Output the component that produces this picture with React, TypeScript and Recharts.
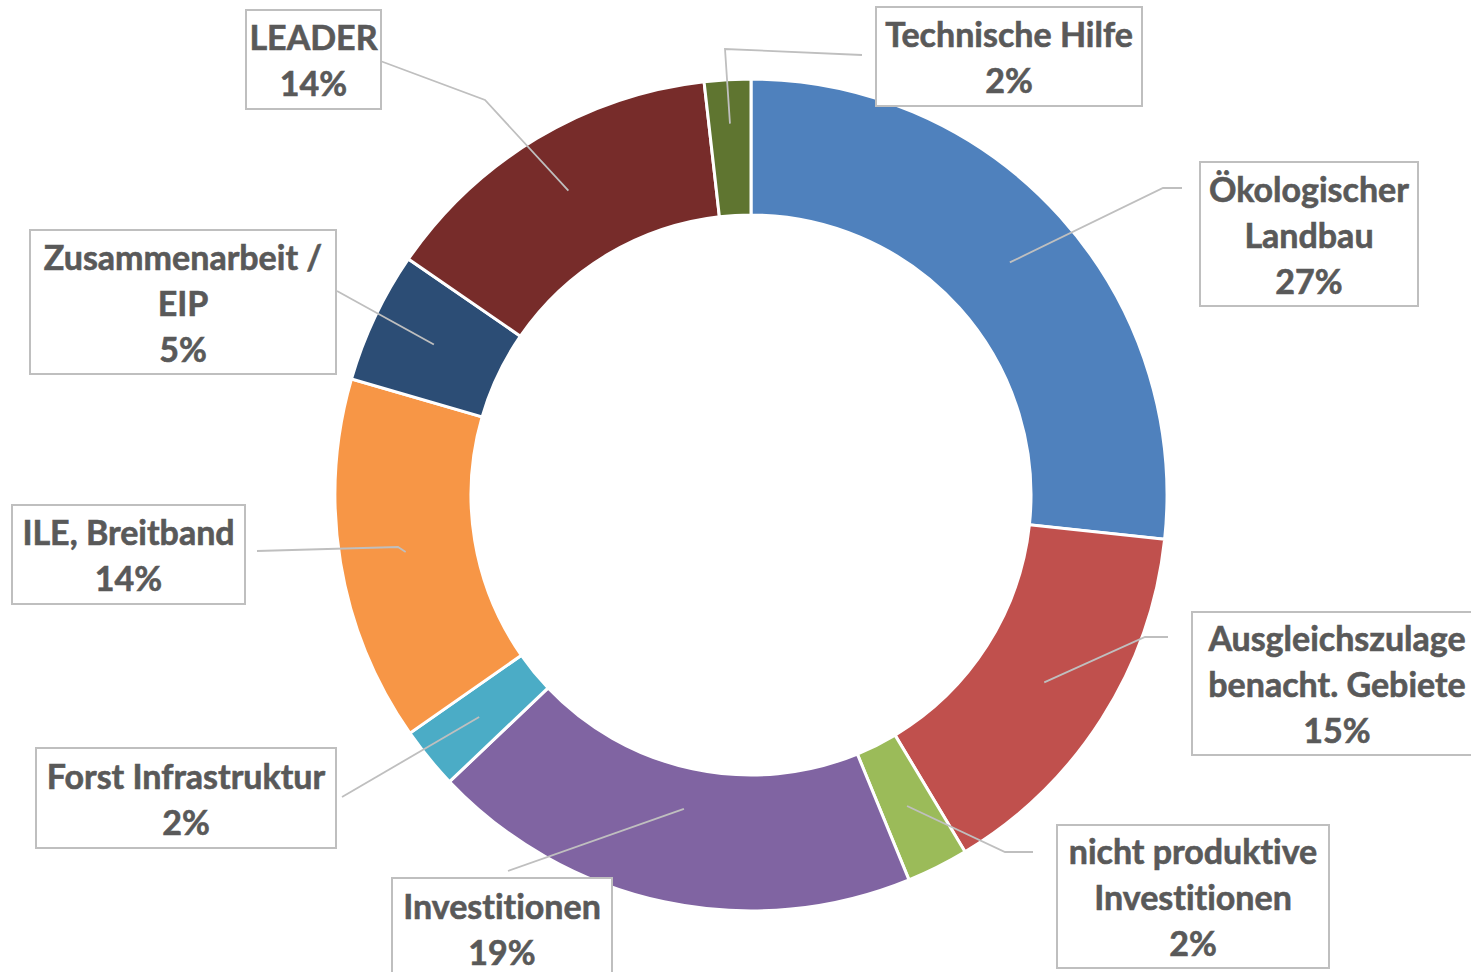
import React from 'react';
import { PieChart, Pie, Cell } from 'recharts';

const categories = [
  'Ökologischer Landbau',
  'Ausgleichszulage benacht. Gebiete',
  'nicht produktive Investitionen',
  'Investitionen',
  'Forst Infrastruktur',
  'ILE, Breitband',
  'Zusammenarbeit / EIP',
  'LEADER',
  'Technische Hilfe',
];
const shares = [26.7, 14.7, 2.4, 19.1, 2.4, 14.2, 5.1, 13.6, 1.8];
const labelLines = [
  ['Ökologischer', 'Landbau'],
  ['Ausgleichszulage', 'benacht. Gebiete'],
  ['nicht produktive', 'Investitionen'],
  ['Investitionen'],
  ['Forst Infrastruktur'],
  ['ILE, Breitband'],
  ['Zusammenarbeit /', 'EIP'],
  ['LEADER'],
  ['Technische Hilfe'],
];
const colors = ['#4F81BD', '#C0504D', '#9BBB59', '#8064A2', '#4BACC6', '#F79646', '#2C4D75', '#772C2A', '#5F7530'];

// label box layout (x, y, w, h) and leader-line geometry
const boxes = [
  [1200, 162, 218, 144],
  [1192, 612, 290, 143],
  [1057, 825, 272, 143],
  [392, 878, 220, 100],
  [36, 748, 300, 100],
  [12, 505, 233, 99],
  [30, 230, 306, 144],
  [246, 10, 135, 99],
  [876, 7, 266, 99],
];
const leaderRadius = [348, 348, 348, 321, 351, 350, 351, 355, 372];
const leaderPaths: number[][][] = [
  [[1163, 188], [1182, 188]],
  [[1145, 637], [1168, 637]],
  [[1005, 852], [1033, 852]],
  [[508, 871]],
  [[342, 797]],
  [[398, 547], [257, 551]],
  [[337, 291]],
  [[485, 100], [375, 59]],
  [[725, 49], [862, 55]],
];

const data = categories.map((name, i) => ({ name, value: shares[i] }));

const CX = 751;
const CY = 495;
const RAD = Math.PI / 180;
const LINE_H = 46;

const renderLabel = (props: any) => {
  const { index, midAngle, percent } = props;
  const cx = props.cx ?? CX;
  const cy = props.cy ?? CY;
  const r = leaderRadius[index];
  const sx = cx + r * Math.cos(-midAngle * RAD);
  const sy = cy + r * Math.sin(-midAngle * RAD);
  const pts = [[sx, sy], ...leaderPaths[index]];
  const [bx, by, bw, bh] = boxes[index];
  const lines = [...labelLines[index], `${Math.round(percent * 100)}%`];
  const n = lines.length;
  const midY = by + bh / 2;
  return (
    <g key={`lbl-${index}`}>
      <polyline
        points={pts.map((p) => p.join(',')).join(' ')}
        fill="none"
        stroke="#BFBFBF"
        strokeWidth={1.8}
      />
      <rect x={bx} y={by} width={bw} height={bh} fill="#FFFFFF" stroke="#BFBFBF" strokeWidth={2} />
      {lines.map((t, k) => (
        <text
          key={k}
          x={bx + bw / 2}
          y={midY + (k - (n - 1) / 2) * LINE_H}
          textAnchor="middle"
          dominantBaseline="central"
          fontFamily="Lato, 'Open Sans', sans-serif"
          fontWeight="bold"
          fontSize={34}
          fill="#595959"
          stroke="#595959"
          strokeWidth={0.6}
          style={{ fontVariantLigatures: 'none' }}
        >
          {t}
        </text>
      ))}
    </g>
  );
};

export default function App() {
  return (
    <div style={{ position: 'absolute', left: 0, top: 0, width: 1471, height: 972, background: '#fff' }}>
      <PieChart width={1471} height={972} margin={{ top: 0, right: 0, bottom: 0, left: 0 }}>
        <Pie
          data={data}
          dataKey="value"
          nameKey="name"
          cx={CX}
          cy={CY}
          innerRadius={280}
          outerRadius={416}
          startAngle={90}
          endAngle={-270}
          stroke="#FFFFFF"
          strokeWidth={3}
          label={renderLabel}
          labelLine={false}
          isAnimationActive={false}
        >
          {data.map((d, i) => (
            <Cell key={d.name} fill={colors[i]} />
          ))}
        </Pie>
      </PieChart>
    </div>
  );
}
